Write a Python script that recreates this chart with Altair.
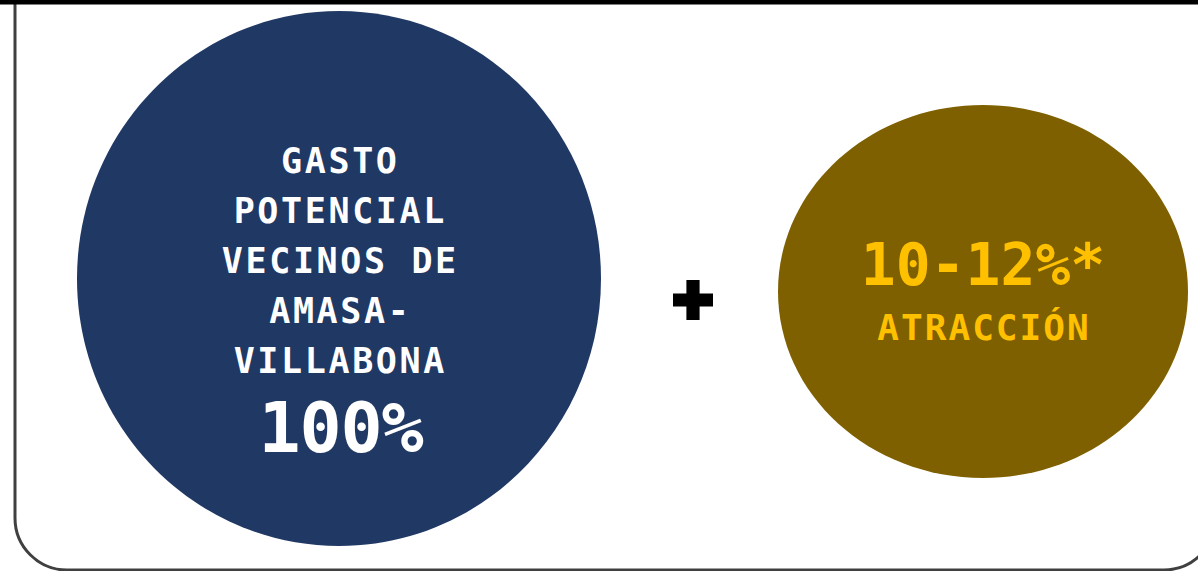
import altair as alt
import pandas as pd

W, H = 1198, 571

# ---- content -------------------------------------------------------------
main_label_lines = ["GASTO", "POTENCIAL", "VECINOS DE", "AMASA-", "VILLABONA"]
main_share = ["100%"]
extra_share = ["10-12%*"]
extra_label = ["ATRACCIÓN"]

# ---- styles --------------------------------------------------------------
NAVY = "#203864"
GOLD_DARK = "#7F6000"
GOLD_TEXT = "#FFC000"
BORDER = "#404040"
FONT = "DejaVu Sans Mono"
LABEL_SIZE = 35
LABEL_ADVANCE = 23.7   # letter-spaced monospace grid

xs = alt.Scale(domain=[0, W], range=[0, W])
ys = alt.Scale(domain=[0, H], range=[0, H])
X = lambda f: alt.X(f, type="quantitative", scale=xs, axis=None)
Y = lambda f: alt.Y(f, type="quantitative", scale=ys, axis=None)


def ellipse_path(ry):
    k = 0.5523
    a, b = k, k * ry
    return (f"M1,0C1,{b:.4f} {a},{ry:.4f} 0,{ry:.4f}"
            f"C{-a},{ry:.4f} -1,{b:.4f} -1,0"
            f"C-1,{-b:.4f} {-a},{-ry:.4f} 0,{-ry:.4f}"
            f"C{a},{-ry:.4f} 1,{-b:.4f} 1,0Z")


def spaced(lines, cx, first_baseline, gap, adv):
    rows = []
    for j, line in enumerate(lines):
        n = len(line)
        for i, ch in enumerate(line):
            if ch == " ":
                continue
            rows.append({"t": ch, "x": cx + (i - (n - 1) / 2) * adv, "y": first_baseline + gap * j})
    return pd.DataFrame(rows)


CROSS = "M-1,-0.33H-0.33V-1H0.33V-0.33H1V0.33H0.33V1H-0.33V0.33H-1Z"

# ---- layout --------------------------------------------------------------
frame = alt.Chart(pd.DataFrame({"x": [15], "x2": [1216], "y": [-100], "y2": [570]})).mark_rect(
    fill="white", stroke=BORDER, strokeWidth=3, cornerRadius=52
).encode(x=X("x"), x2="x2", y=Y("y"), y2="y2")

top_band = alt.Chart(pd.DataFrame({"x": [0], "x2": [W], "y": [0], "y2": [4.5]})).mark_rect(
    fill="black"
).encode(x=X("x"), x2="x2", y=Y("y"), y2="y2")

blue = alt.Chart(pd.DataFrame({"x": [339], "y": [278.5]})).mark_point(
    shape=ellipse_path(535 / 524), size=524 ** 2, filled=True, fill=NAVY, opacity=1, strokeWidth=0
).encode(x=X("x"), y=Y("y"))

gold = alt.Chart(pd.DataFrame({"x": [983], "y": [291.5]})).mark_point(
    shape=ellipse_path(373 / 410), size=410 ** 2, filled=True, fill=GOLD_DARK, opacity=1, strokeWidth=0
).encode(x=X("x"), y=Y("y"))

plus = alt.Chart(pd.DataFrame({"x": [693], "y": [300]})).mark_point(
    shape=CROSS, size=40 ** 2, filled=True, fill="black", opacity=1, strokeWidth=0
).encode(x=X("x"), y=Y("y"))

blue_text = alt.Chart(spaced(main_label_lines, 339, 173, 50, LABEL_ADVANCE)).mark_text(
    font=FONT, fontWeight="bold", fontSize=LABEL_SIZE, color="white", align="center", baseline="alphabetic"
).encode(x=X("x"), y=Y("y"), text="t:N")

pct_text = alt.Chart(spaced(main_share, 341, 452, 0, 41)).mark_text(
    font=FONT, fontWeight="bold", fontSize=70, color="white", align="center", baseline="alphabetic"
).encode(x=X("x"), y=Y("y"), text="t:N")

gold_pct = alt.Chart(pd.DataFrame({"t": extra_share, "x": [983], "y": [285]})).mark_text(
    font=FONT, fontWeight="bold", fontSize=58, color=GOLD_TEXT, align="center", baseline="alphabetic"
).encode(x=X("x"), y=Y("y"), text="t:N")

gold_lbl = alt.Chart(spaced(extra_label, 983, 340, 0, LABEL_ADVANCE)).mark_text(
    font=FONT, fontWeight="bold", fontSize=LABEL_SIZE + 1, color=GOLD_TEXT, align="center", baseline="alphabetic"
).encode(x=X("x"), y=Y("y"), text="t:N")

chart = alt.layer(
    frame, top_band, blue, gold, plus, blue_text, pct_text, gold_pct, gold_lbl
).properties(
    width=W, height=H, padding=0, autosize=alt.AutoSizeParams(type="none"), background="white"
).configure_view(stroke=None)

chart.save("out.html", embed_options={"renderer": "svg", "actions": False})
